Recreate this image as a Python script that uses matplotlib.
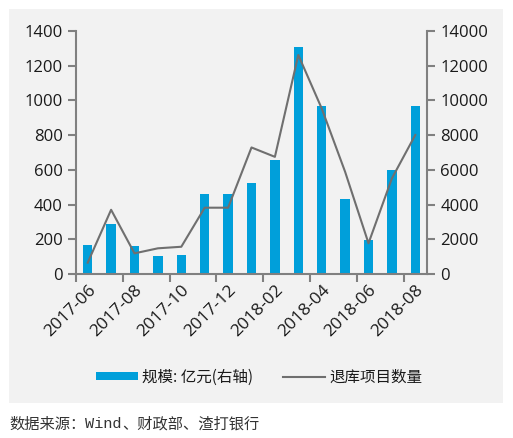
import numpy as np
import matplotlib
matplotlib.use('Agg')
import matplotlib.pyplot as plt
from matplotlib.patches import Rectangle, Patch
from matplotlib.lines import Line2D
from matplotlib.ticker import FixedLocator, NullFormatter

# Datos
months = ['2017-06', '2017-07', '2017-08', '2017-09', '2017-10', '2017-11',
          '2017-12', '2018-01', '2018-02', '2018-03', '2018-04', '2018-05',
          '2018-06', '2018-07', '2018-08']
scale = [1670, 2880, 1610, 1040, 1090, 4600, 4600, 5240, 6560, 13060,
         9670, 4310, 1960, 5980, 9670]  # 规模: 亿元 (eje derecho)
count = [65, 370, 119, 148, 157, 382, 382, 729, 675, 1262, 954, 589,
         177, 551, 801]  # 退库项目数量 (eje izquierdo)

bar_color = '#009FDA'
line_color = '#6F6F6F'
spine_color = '#808080'
text_color = '#1A1A1A'
num_font = ['Open Sans', 'DejaVu Sans']
cjk_font = ['Noto Sans CJK SC', 'DejaVu Sans']

fig = plt.figure(figsize=(5.13, 4.38), dpi=100)
fig.patch.set_facecolor('white')
fig.patches.append(Rectangle((9/513, 1 - 403/438), 494/513, 394/438,
                             transform=fig.transFigure, facecolor='#F2F2F2',
                             edgecolor='none', zorder=-10))

ax = fig.add_axes([76/513, 1 - 274/438, 351/513, 243/438])
ax2 = ax.twinx()
ax.set_zorder(ax2.get_zorder() + 1)
ax.patch.set_visible(False)
ax2.patch.set_visible(False)

x = np.arange(len(months))
ax2.bar(x, scale, width=0.4, color=bar_color)
ax.plot(x, count, color=line_color, lw=1.5)

ax.set_xlim(-0.5, len(months) - 0.5)
ax.set_ylim(0, 1400)
ax2.set_ylim(0, 14000)
ax.set_yticks(np.arange(0, 1401, 200))
ax2.set_yticks(np.arange(0, 14001, 2000))

# Etiquetas en meses pares, marcas en los bordes
ax.set_xticks(x[::2])
ax.set_xticklabels(months[::2], rotation=45, ha='right',
                   rotation_mode='anchor', fontsize=12.5, family=num_font,
                   color=text_color)
ax.xaxis.set_minor_locator(FixedLocator(np.arange(-0.5, len(months), 2)))
ax.xaxis.set_minor_formatter(NullFormatter())
ax.tick_params(axis='x', which='major', length=0, pad=6)
ax.tick_params(axis='x', which='minor', length=6, width=1.5,
               color=spine_color, direction='out')
ax.tick_params(axis='y', length=6, width=1.5, color=spine_color,
               direction='out', labelsize=12, labelcolor=text_color)
ax2.tick_params(axis='y', length=6, width=1.5, color=spine_color,
                direction='out', labelsize=12, labelcolor=text_color)
for lab in ax.get_yticklabels() + ax2.get_yticklabels():
    lab.set_family(num_font)

for a in (ax, ax2):
    a.spines['top'].set_visible(False)
    for s in ('left', 'right', 'bottom'):
        a.spines[s].set_color(spine_color)
        a.spines[s].set_linewidth(1.5)
ax.spines['right'].set_visible(False)
ax2.spines['left'].set_visible(False)
ax2.spines['bottom'].set_visible(False)

handles = [Patch(facecolor=bar_color, edgecolor='none'),
           Line2D([], [], color=line_color, lw=1.5)]
leg = fig.legend(handles, ['规模: 亿元(右轴)', '退库项目数量'],
                 loc='center', bbox_to_anchor=(259/513, 1 - 377/438), ncol=2,
                 frameon=False, handlelength=2.7, handleheight=0.5,
                 handletextpad=0.3, columnspacing=1.9,
                 prop={'family': cjk_font, 'size': 11.2})
for t in leg.get_texts():
    t.set_color(text_color)

# Fuente de los datos
fig.canvas.draw()
r = fig.canvas.get_renderer()
parts = [('数据来源：', cjk_font), ('Wind', ['Liberation Mono']),
         ('、财政部、渣打银行', cjk_font)]
xp = 9
for txt, fam in parts:
    t = fig.text(xp/513, 1 - 424/438, txt, family=fam, fontsize=11,
                 va='center', ha='left', color='#333333')
    bb = t.get_window_extent(renderer=r)
    xp += bb.width

fig.savefig('out.png', dpi=100)
